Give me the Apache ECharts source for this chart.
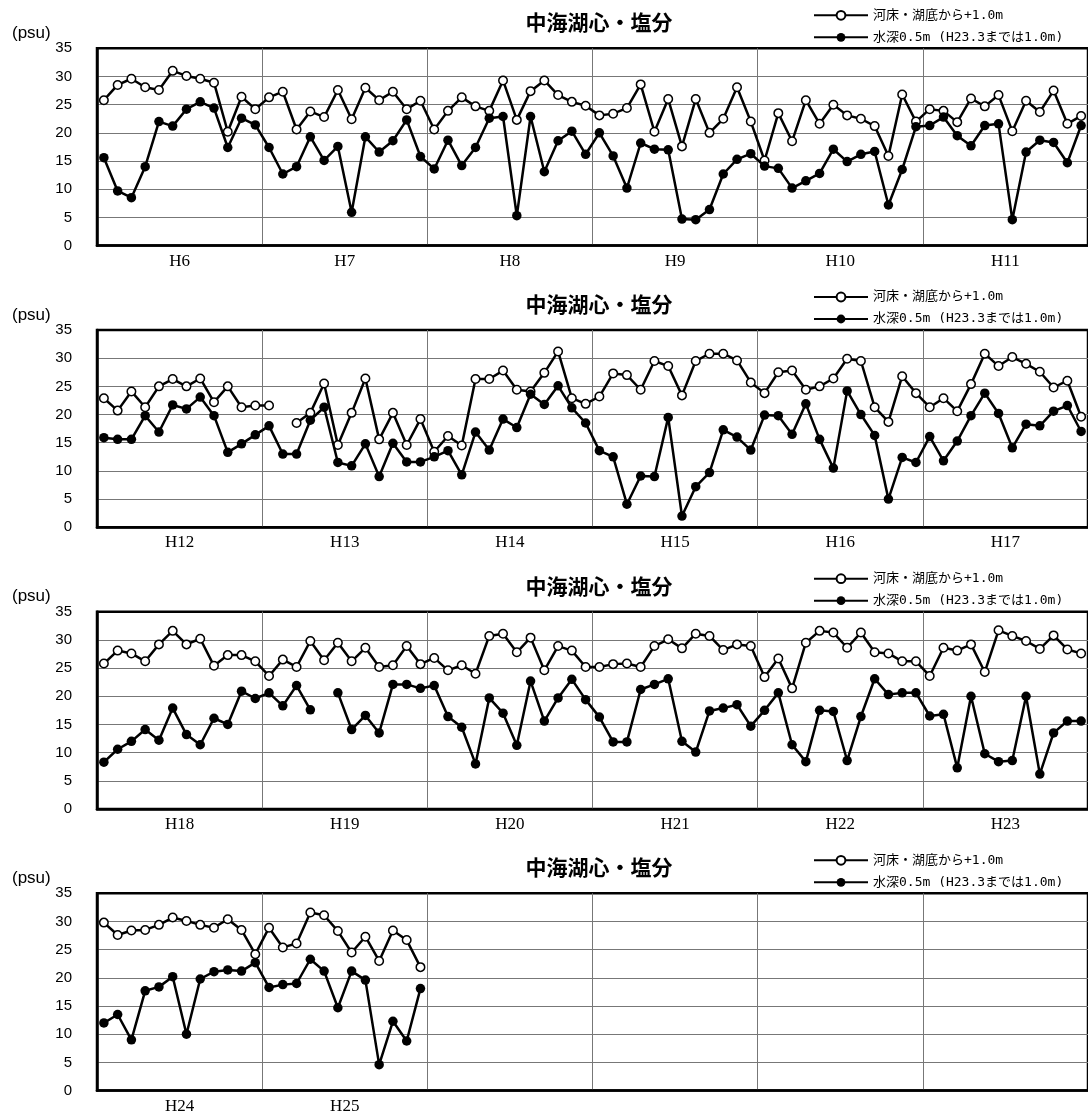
<!DOCTYPE html>
<html><head><meta charset="utf-8">
<script src="https://cdn.jsdelivr.net/npm/echarts/dist/echarts.min.js"></script>
<style>html,body{margin:0;padding:0;background:#fff}#c{width:1088px;height:1117px}</style>
</head><body><div id="c"></div>
<script>
// ---- data ----
const TITLE = '中海湖心・塩分';
const UNIT = '(psu)';
const NAME_BED = '河床・湖底から+1.0m';
const NAME_SURF = '水深0.5m (H23.3までは1.0m)';
const yTicks = [0, 5, 10, 15, 20, 25, 30, 35];
const monthsInYear = [4, 5, 6, 7, 8, 9, 10, 11, 12, 1, 2, 3];

const yearsP1 = ['H6', 'H7', 'H8', 'H9', 'H10', 'H11'];
const yearsP2 = ['H12', 'H13', 'H14', 'H15', 'H16', 'H17'];
const yearsP3 = ['H18', 'H19', 'H20', 'H21', 'H22', 'H23'];
const yearsP4 = ['H24', 'H25', '', '', '', ''];

const bedP1 = [25.8,28.5,29.6,28.1,27.6,31.0,30.1,29.6,28.9,20.2,26.4,24.2,
  26.3,27.3,20.6,23.8,22.8,27.6,22.4,28.0,25.8,27.3,24.2,25.7,
  20.6,23.9,26.3,24.7,23.9,29.3,22.3,27.4,29.3,26.7,25.5,24.8,
  23.1,23.4,24.4,28.6,20.2,26.0,17.6,26.0,20.0,22.5,28.1,22.0,
  15.1,23.5,18.5,25.8,21.6,25.0,23.1,22.5,21.2,15.9,26.8,22.0,
  24.2,23.9,21.9,26.1,24.7,26.7,20.3,25.7,23.7,27.5,21.6,23.0];
const surfP1 = [15.6,9.7,8.5,14.0,22.0,21.2,24.2,25.5,24.4,17.4,22.6,21.4,
  17.4,12.7,14.0,19.3,15.1,17.6,5.9,19.3,16.6,18.6,22.3,15.8,
  13.6,18.7,14.2,17.4,22.6,22.9,5.3,22.9,13.1,18.6,20.3,16.2,
  20.0,15.9,10.2,18.2,17.1,17.0,4.7,4.6,6.4,12.7,15.3,16.3,
  14.1,13.7,10.2,11.5,12.8,17.1,14.9,16.2,16.7,7.2,13.5,21.1,
  21.3,22.8,19.5,17.7,21.3,21.6,4.6,16.6,18.7,18.3,14.7,21.3];

const bedP2 = [22.9,20.7,24.1,21.3,25.0,26.3,25.0,26.4,22.2,25.0,21.3,21.6,
  21.6,null,18.5,20.3,25.5,14.6,20.3,26.4,15.6,20.3,14.6,19.2,
  13.4,16.2,14.5,26.3,26.3,27.8,24.4,24.1,27.4,31.2,22.9,21.9,
  23.2,27.3,27.0,24.4,29.5,28.6,23.4,29.5,30.8,30.8,29.6,25.7,
  23.8,27.5,27.8,24.4,25.0,26.4,29.9,29.5,21.3,18.7,26.8,23.8,
  21.3,22.9,20.6,25.4,30.8,28.6,30.2,29.0,27.6,24.8,26.0,19.6];
const surfP2 = [15.9,15.6,15.6,19.8,16.9,21.7,21.0,23.1,19.8,13.3,14.8,16.4,
  18.0,13.0,13.0,19.0,21.3,11.5,10.9,14.8,9.0,14.9,11.6,11.6,
  12.5,13.6,9.3,16.9,13.7,19.2,17.7,23.6,21.8,25.1,21.2,18.5,
  13.6,12.5,4.1,9.1,9.0,19.5,2.0,7.2,9.7,17.3,16.0,13.7,
  19.9,19.8,16.5,21.9,15.6,10.5,24.2,20.0,16.3,5.0,12.4,11.5,
  16.1,11.8,15.3,19.8,23.8,20.2,14.1,18.3,18.0,20.6,21.6,17.0];

const bedP3 = [25.8,28.1,27.6,26.2,29.2,31.6,29.2,30.2,25.4,27.3,27.3,26.2,
  23.6,26.5,25.2,29.8,26.4,29.5,26.2,28.6,25.2,25.5,28.9,25.7,
  26.8,24.6,25.5,24.0,30.7,31.1,27.8,30.4,24.6,28.9,28.1,25.2,
  25.2,25.7,25.8,25.2,28.9,30.1,28.5,31.1,30.7,28.2,29.2,28.9,
  23.4,26.7,21.4,29.5,31.6,31.3,28.6,31.3,27.8,27.6,26.2,26.2,
  23.6,28.6,28.1,29.2,24.3,31.7,30.7,29.8,28.4,30.8,28.3,27.6];
const surfP3 = [8.3,10.6,12.0,14.1,12.2,17.9,13.2,11.4,16.1,15.0,20.9,19.6,
  20.6,18.3,21.9,17.6,null,20.6,14.1,16.6,13.5,22.1,22.1,21.4,
  21.9,16.4,14.5,8.0,19.7,17.0,11.3,22.7,15.6,19.7,23.0,19.4,
  16.3,11.9,11.9,21.2,22.1,23.1,12.0,10.1,17.4,17.9,18.5,14.7,
  17.5,20.6,11.4,8.4,17.5,17.3,8.6,16.4,23.1,20.3,20.6,20.6,
  16.5,16.8,7.3,20.0,9.8,8.4,8.6,20.0,6.2,13.5,15.6,15.6];

const bedP4 = [29.8,27.6,28.4,28.5,29.4,30.7,30.1,29.4,28.9,30.4,28.5,24.2,
  28.9,25.4,26.1,31.6,31.1,28.3,24.5,27.3,23.0,28.4,26.7,21.9];
const surfP4 = [12.0,13.5,9.0,17.7,18.4,20.2,10.0,19.8,21.1,21.4,21.2,22.7,
  18.3,18.8,19.0,23.3,21.2,14.7,21.2,19.6,4.6,12.3,8.8,18.1];

// ---- layout ----
const panels = [
  {years: yearsP1, bed: bedP1, surf: surfP1},
  {years: yearsP2, bed: bedP2, surf: surfP2},
  {years: yearsP3, bed: bedP3, surf: surfP3},
  {years: yearsP4, bed: bedP4, surf: surfP4}
];
const gridTops = [48.3, 330, 611.7, 893.3];
const GRID_L = 97, GRID_W = 996, GRID_H = 197.3;
const LEGEND_FONT = "'DejaVu Sans Mono','Noto Sans CJK JP',sans-serif";

const option = {
  animation: false, backgroundColor: '#fff',
  grid: [], xAxis: [], yAxis: [], series: [], legend: [], graphic: []
};

panels.forEach((p, k) => {
  const top = gridTops[k];
  option.grid.push({left: GRID_L, top: top, width: GRID_W, height: GRID_H,
    show: true, borderColor: '#000', borderWidth: 2.5, backgroundColor: 'transparent'});
  const cats = [];
  p.years.forEach((y, yi) => monthsInYear.forEach((m, mi) => cats.push(k + '-' + (yi * 12 + mi))));
  option.xAxis.push({type: 'category', gridIndex: k, data: cats, boundaryGap: true, show: false});
  option.xAxis.push({type: 'category', gridIndex: k, data: p.years, boundaryGap: true, position: 'bottom',
    axisLine: {show: true, lineStyle: {color: '#000', width: 2.5}},
    axisTick: {show: false},
    axisLabel: {interval: 0, color: '#000', fontFamily: "'Liberation Serif',serif", fontSize: 17, margin: 7},
    splitLine: {show: true, lineStyle: {color: ['#000', '#777', '#777', '#777', '#777', '#777', '#777'], width: 1}}
  });
  option.yAxis.push({type: 'value', gridIndex: k, min: yTicks[0], max: yTicks[yTicks.length - 1],
    interval: yTicks[1] - yTicks[0],
    axisLine: {show: true, lineStyle: {color: '#000', width: 2.5}},
    axisTick: {show: false},
    axisLabel: {color: '#000', fontFamily: "'Liberation Sans',Arial,sans-serif", fontSize: 15, margin: 25},
    splitLine: {show: true, lineStyle: {color: ['#000', '#777', '#777', '#777', '#777', '#777', '#777', '#000'], width: 1}}
  });
  option.series.push({type: 'line', name: NAME_BED, xAxisIndex: 2 * k, yAxisIndex: k, data: p.bed,
    symbol: 'circle', symbolSize: 8.5, showAllSymbol: true, connectNulls: false,
    lineStyle: {color: '#000', width: 2.5},
    itemStyle: {color: '#fff', borderColor: '#000', borderWidth: 1.5}, z: 3});
  option.series.push({type: 'line', name: NAME_SURF, xAxisIndex: 2 * k, yAxisIndex: k, data: p.surf,
    symbol: 'circle', symbolSize: 9.5, showAllSymbol: true, connectNulls: false,
    lineStyle: {color: '#000', width: 2.5},
    itemStyle: {color: '#000', borderColor: '#000', borderWidth: 0}, z: 4});
  option.legend.push({orient: 'vertical', left: 808, top: top - 45, itemWidth: 54, itemHeight: 11, itemGap: 8,
    data: [NAME_BED, NAME_SURF], selectedMode: false,
    textStyle: {fontFamily: LEGEND_FONT, fontSize: 13, color: '#000', lineHeight: 14}});
  option.graphic.push({type: 'text', x: 599, y: top - 26, silent: true,
    style: {text: TITLE, font: "bold 21px 'Noto Sans CJK JP'", fill: '#000',
      textAlign: 'center', textVerticalAlign: 'middle', align: 'center', verticalAlign: 'middle'}});
  option.graphic.push({type: 'text', x: 12, y: top - 15, silent: true,
    style: {text: UNIT, font: "17px 'Liberation Sans'", fill: '#000',
      textAlign: 'left', textVerticalAlign: 'middle', align: 'left', verticalAlign: 'middle'}});
});

const chart = echarts.init(document.getElementById('c'), null, {renderer: 'canvas'});
chart.setOption(option);
</script>
</body></html>
